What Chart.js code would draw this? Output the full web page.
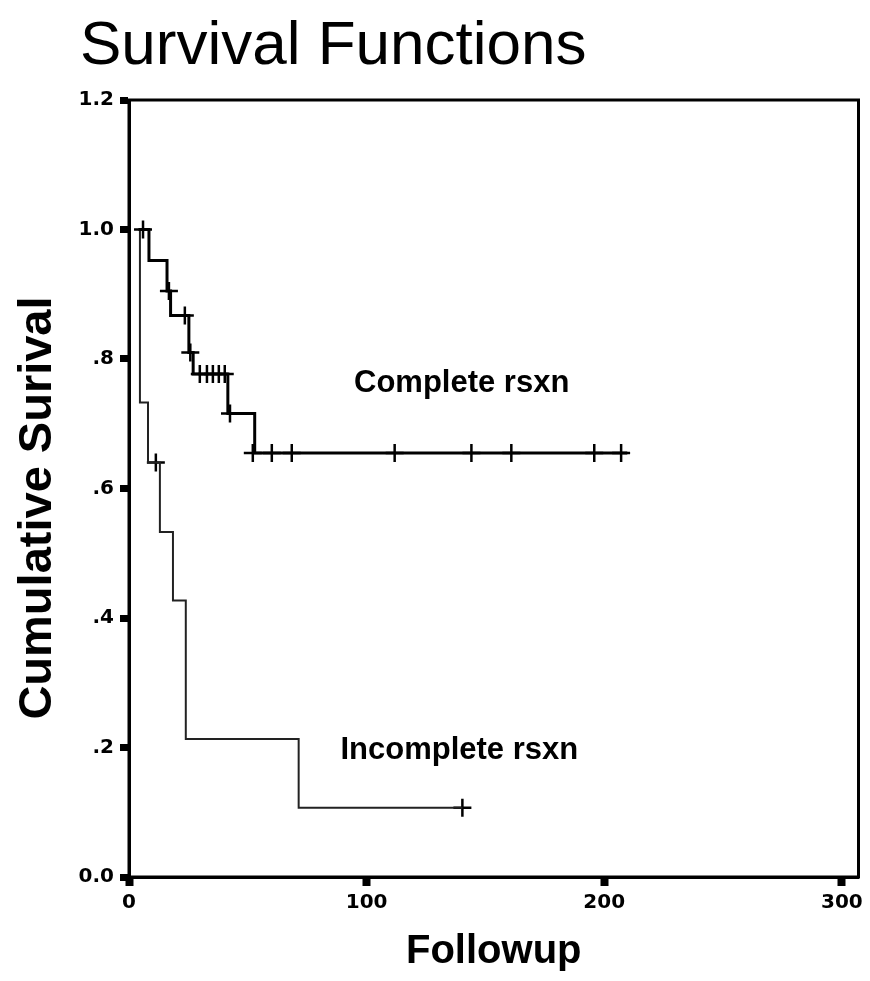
<!DOCTYPE html>
<html>
<head>
<meta charset="utf-8">
<script src="https://cdn.jsdelivr.net/npm/chart.js@4.4.1/dist/chart.umd.min.js"></script>
<style>
  body { margin: 0; background: #fff; }
  #wrap { position: relative; width: 870px; height: 981px; }
  #title {
    position: absolute; left: 80px; top: 7px;
    font-family: "Liberation Sans", Arial, sans-serif;
    font-size: 62px; color: #000; white-space: nowrap;
  }
</style>
</head>
<body>
<div id="wrap">
  <canvas id="myChart" width="870" height="981"></canvas>
  <div id="title">Survival Functions</div>
</div>
<script>
"use strict"

// TICKS
const xTicks = [0, 100, 200, 300];
const yTicks = [0, 0.2, 0.4, 0.6, 0.8, 1.0, 1.2];
const yTickLabels = ['0.0', '.2', '.4', '.6', '.8', '1.0', '1.2'];

// COMPLETE RESECTION - step points (time, survival)
const completeTime = [4, 8.4, 16, 17.5, 25.2, 27, 41.6, 52.9, 209.7];
const completeSurv = [1.0, 0.952, 0.905, 0.867, 0.81, 0.777, 0.716, 0.655, 0.655];
// censored cases
const completeCensTime = [5.9, 16.8, 23.5, 25.8, 29.8, 32.8, 35.3, 37.8, 40.3, 42.5, 52.1, 60.1, 68.5, 111.8, 144.1, 160.9, 195.8, 207.1];
const completeCensSurv = [1.0, 0.905, 0.867, 0.81, 0.777, 0.777, 0.777, 0.777, 0.777, 0.716, 0.655, 0.655, 0.655, 0.655, 0.655, 0.655, 0.655, 0.655];

// INCOMPLETE RESECTION
const incompleteTime = [4, 4.6, 8, 13, 18.5, 23.9, 71.4, 140.3];
const incompleteSurv = [1.0, 0.733, 0.64, 0.533, 0.427, 0.213, 0.107, 0.107];
const incompleteCensTime = [11.3, 140.3];
const incompleteCensSurv = [0.64, 0.107];

// CURVE LABELS (data coords)
const curveLabels = ['Complete rsxn', 'Incomplete rsxn'];
const curveLabelX = [140, 139];
const curveLabelY = [0.763, 0.196];

const yTitle = 'Cumulative Surival';

function toPoints(xs, ys) {
    return xs.map((x, i) => ({ x: x, y: ys[i] }));
}

const FONT = '"Liberation Sans", Arial, sans-serif';

// draws the box around the plot, the y title and the curve names
const extras = {
    id: 'extras',
    afterDatasetsDraw(chart) {
        const { ctx, chartArea: a, scales } = chart;
        ctx.save();
        ctx.strokeStyle = '#000';
        ctx.lineWidth = 3;
        ctx.strokeRect(a.left, a.top, a.right - a.left, a.bottom - a.top);
        ctx.fillStyle = '#000';
        ctx.font = 'bold 31px ' + FONT;
        ctx.textAlign = 'center';
        ctx.textBaseline = 'middle';
        curveLabels.forEach((t, i) => {
            ctx.fillText(t, scales.x.getPixelForValue(curveLabelX[i]), scales.y.getPixelForValue(curveLabelY[i]));
        });
        // y axis title, a bit below the middle like the original
        ctx.translate(38, 508);
        ctx.rotate(-Math.PI / 2);
        ctx.font = 'bold 47px ' + FONT;
        ctx.fillText(yTitle, 0, 0);
        ctx.restore();
    }
};

const data = {
    datasets: [{
        label: 'Complete rsxn',
        data: toPoints(completeTime, completeSurv),
        borderColor: '#000',
        borderWidth: 3,
        stepped: 'before',
        pointRadius: 0,
        fill: false
    }, {
        label: 'Incomplete rsxn',
        data: toPoints(incompleteTime, incompleteSurv),
        borderColor: '#222',
        borderWidth: 2,
        stepped: 'before',
        pointRadius: 0,
        fill: false
    }, {
        label: 'Complete censored',
        type: 'scatter',
        data: toPoints(completeCensTime, completeCensSurv),
        pointStyle: 'cross',
        pointRadius: 9,
        borderColor: '#000',
        borderWidth: 2.5,
        showLine: false
    }, {
        label: 'Incomplete censored',
        type: 'scatter',
        data: toPoints(incompleteCensTime, incompleteCensSurv),
        pointStyle: 'cross',
        pointRadius: 9,
        borderColor: '#000',
        borderWidth: 2.5,
        showLine: false
    }]
};

const tickFont = { family: '"DejaVu Sans", sans-serif', size: 20, weight: 'bold' };

const config = {
    type: 'line',
    data: data,
    plugins: [extras],
    options: {
        responsive: false,
        animation: false,
        layout: { padding: { top: 100, right: 11, left: 0, bottom: 0 } },
        plugins: {
            legend: { display: false },
            tooltip: { enabled: false }
        },
        scales: {
            x: {
                type: 'linear',
                min: 0,
                max: 307,
                afterBuildTicks: (s) => { s.ticks = xTicks.map(v => ({ value: v })); },
                afterFit: (s) => { s.height = 104; },
                border: { display: true, color: '#000', width: 3 },
                grid: { drawOnChartArea: false, color: '#000', tickLength: 9, tickWidth: 8 },
                ticks: { color: '#000', font: tickFont, padding: 5, maxRotation: 0 },
                title: { display: true, text: 'Followup', color: '#000', font: { family: FONT, size: 40, weight: 'bold' }, padding: { top: 0, bottom: 5 } }
            },
            y: {
                min: 0,
                max: 1.2,
                afterBuildTicks: (s) => { s.ticks = yTicks.map(v => ({ value: v })); },
                afterFit: (s) => { s.width = 129; },
                border: { display: true, color: '#000', width: 3 },
                grid: { drawOnChartArea: false, color: '#000', tickLength: 9, tickWidth: 7 },
                ticks: { color: '#000', font: tickFont, padding: 6, callback: (v, i) => yTickLabels[i] }
            }
        }
    }
};

const myChart = new Chart(document.getElementById('myChart'), config);
</script>
</body>
</html>
